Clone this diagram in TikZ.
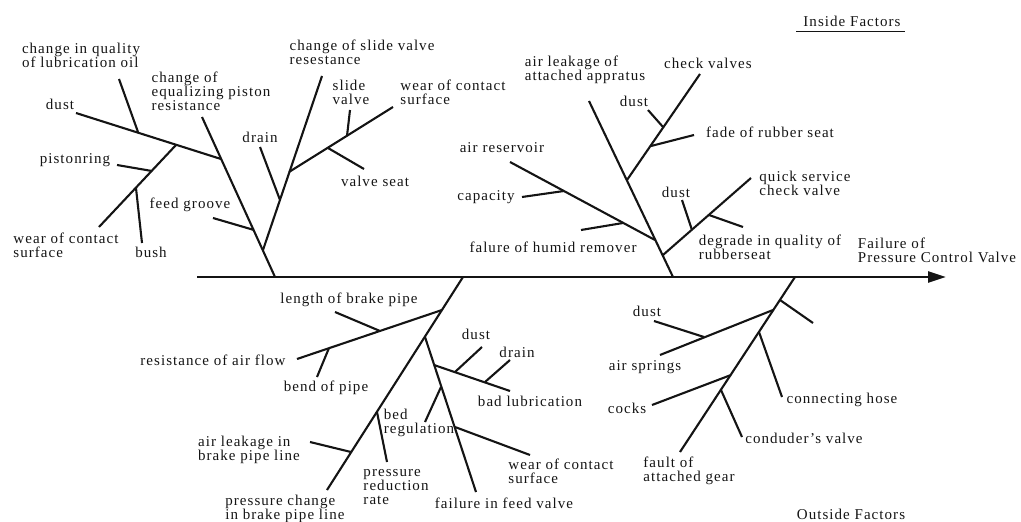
\documentclass[tikz,border=0pt]{standalone}
\usepackage{fontspec}
\setmainfont{Liberation Serif}[LetterSpace=7]
\usetikzlibrary{arrows.meta}
\definecolor{FbInk}{HTML}{141414}
\tikzset{
  fbSpine/.style={line width=2.6pt,FbInk,-{Triangle[length=18pt,width=11pt]}},
  fbBone/.style={line width=2.1pt,FbInk},
  fbLabel/.style={inner sep=0pt,align=left,text=FbInk,font=\fontsize{15}{14}\selectfont},
}

\begin{document}
\begin{tikzpicture}[x=1pt,y=-1pt]
  \useasboundingbox (0,0) rectangle (1021,522);
  \coordinate (S0) at (197,277);
  \coordinate (S1) at (946,277);
  \coordinate (A0) at (275,277);  \coordinate (A1) at (202,117);
  \coordinate (Ad) at (221,159);  \coordinate (Ade) at (76,113);
  \coordinate (Al) at (138,132);  \coordinate (Ale) at (119,79);
  \coordinate (Aw) at (176,145);  \coordinate (Awe) at (99,227);
  \coordinate (Ap) at (152,171);  \coordinate (Ape) at (117,165);
  \coordinate (Ab) at (136,188);  \coordinate (Abe) at (142,243);
  \coordinate (Af) at (254,230);  \coordinate (Afe) at (213,218);
  \coordinate (B0) at (263,250);  \coordinate (B1) at (322,76);
  \coordinate (Bd) at (280,200);  \coordinate (Bde) at (260,147);
  \coordinate (Bs) at (289,172);  \coordinate (Bse) at (393,107);
  \coordinate (Bv) at (347,136);  \coordinate (Bve) at (350,110);
  \coordinate (Bt) at (328,148);  \coordinate (Bte) at (364,169);
  \coordinate (C0) at (673,277);  \coordinate (C1) at (589,101);
  \coordinate (Cc) at (627,180);  \coordinate (Cce) at (700,74);
  \coordinate (Cd) at (663,127);  \coordinate (Cde) at (648,110);
  \coordinate (Cf) at (651,146);  \coordinate (Cfe) at (694,135);
  \coordinate (Cr) at (655,240);  \coordinate (Cre) at (510,162);
  \coordinate (Cp) at (564,191);  \coordinate (Cpe) at (522,197);
  \coordinate (Ch) at (623,223);  \coordinate (Che) at (581,230);
  \coordinate (Cq) at (663,255);  \coordinate (Cqe) at (751,178);
  \coordinate (Cu) at (692,230);  \coordinate (Cue) at (682,200);
  \coordinate (Cg) at (709,215);  \coordinate (Cge) at (743,227);
  \coordinate (D0) at (463,277);  \coordinate (D1) at (327,490);
  \coordinate (Dr) at (442,310);  \coordinate (Dre) at (297,359);
  \coordinate (Dl) at (380,331);  \coordinate (Dle) at (335,312);
  \coordinate (Db) at (329,348);  \coordinate (Dbe) at (317,377);
  \coordinate (Da) at (351,452);  \coordinate (Dae) at (310,442);
  \coordinate (Dp) at (377,412);  \coordinate (Dpe) at (387,462);
  \coordinate (E0) at (425,337);  \coordinate (E1) at (476,492);
  \coordinate (El) at (434,365);  \coordinate (Ele) at (510,391);
  \coordinate (Eu) at (455,372);  \coordinate (Eue) at (482,347);
  \coordinate (En) at (485,382);  \coordinate (Ene) at (510,360);
  \coordinate (Eg) at (441,387);  \coordinate (Ege) at (425,422);
  \coordinate (Ew) at (455,427);  \coordinate (Ewe) at (530,455);
  \coordinate (F0) at (795,277);  \coordinate (F1) at (680,452);
  \coordinate (Ft) at (780,300);  \coordinate (Fte) at (813,323);
  \coordinate (Fs) at (773,310);  \coordinate (Fse) at (660,355);
  \coordinate (Fu) at (704,337);  \coordinate (Fue) at (654,321);
  \coordinate (Fh) at (759,332);  \coordinate (Fhe) at (782,397);
  \coordinate (Fc) at (731,375);  \coordinate (Fce) at (652,405);
  \coordinate (Fv) at (721,390);  \coordinate (Fve) at (742,437);

  \draw[fbSpine] (S0) -- (S1);
  \draw[fbBone] (A0) -- (A1);
  \draw[fbBone] (Ad) -- (Ade);
  \draw[fbBone] (Al) -- (Ale);
  \draw[fbBone] (Aw) -- (Awe);
  \draw[fbBone] (Ap) -- (Ape);
  \draw[fbBone] (Ab) -- (Abe);
  \draw[fbBone] (Af) -- (Afe);
  \draw[fbBone] (B0) -- (B1);
  \draw[fbBone] (Bd) -- (Bde);
  \draw[fbBone] (Bs) -- (Bse);
  \draw[fbBone] (Bv) -- (Bve);
  \draw[fbBone] (Bt) -- (Bte);
  \draw[fbBone] (C0) -- (C1);
  \draw[fbBone] (Cc) -- (Cce);
  \draw[fbBone] (Cd) -- (Cde);
  \draw[fbBone] (Cf) -- (Cfe);
  \draw[fbBone] (Cr) -- (Cre);
  \draw[fbBone] (Cp) -- (Cpe);
  \draw[fbBone] (Ch) -- (Che);
  \draw[fbBone] (Cq) -- (Cqe);
  \draw[fbBone] (Cu) -- (Cue);
  \draw[fbBone] (Cg) -- (Cge);
  \draw[fbBone] (D0) -- (D1);
  \draw[fbBone] (Dr) -- (Dre);
  \draw[fbBone] (Dl) -- (Dle);
  \draw[fbBone] (Db) -- (Dbe);
  \draw[fbBone] (Da) -- (Dae);
  \draw[fbBone] (Dp) -- (Dpe);
  \draw[fbBone] (E0) -- (E1);
  \draw[fbBone] (El) -- (Ele);
  \draw[fbBone] (Eu) -- (Eue);
  \draw[fbBone] (En) -- (Ene);
  \draw[fbBone] (Eg) -- (Ege);
  \draw[fbBone] (Ew) -- (Ewe);
  \draw[fbBone] (F0) -- (F1);
  \draw[fbBone] (Ft) -- (Fte);
  \draw[fbBone] (Fs) -- (Fse);
  \draw[fbBone] (Fu) -- (Fue);
  \draw[fbBone] (Fh) -- (Fhe);
  \draw[fbBone] (Fc) -- (Fce);
  \draw[fbBone] (Fv) -- (Fve);

  \node[fbLabel] (inside) at (852,21) {Inside Factors};
  \draw[line width=0.8pt,FbInk] ([xshift=-7pt,yshift=-5pt]inside.south west) -- ([xshift=4pt,yshift=-5pt]inside.south east);
  \node[fbLabel] (outside) at (851,514) {Outside Factors};
  \node[fbLabel] (effect) at (937,250) {Failure of\\Pressure Control Valve};

  \node[fbLabel] (lubOil) at (81,55) {change in quality\\of lubrication oil};
  \node[fbLabel] (dustA) at (60,104) {dust};
  \node[fbLabel] (eqPiston) at (211,91) {change of\\equalizing piston\\resistance};
  \node[fbLabel] (drainA) at (260,137) {drain};
  \node[fbLabel] (pistonRing) at (75,160) {pistonring};
  \node[fbLabel] (feedGroove) at (190,205) {feed groove};
  \node[fbLabel] (wearA) at (66,245) {wear of contact\\surface};
  \node[fbLabel] (bush) at (151,252) {bush};
  \node[fbLabel] (slideRes) at (362,52) {change of slide valve\\resestance};
  \node[fbLabel] (slideValve) at (351,92) {slide\\valve};
  \node[fbLabel] (wearB) at (453,92) {wear of contact\\surface};
  \node[fbLabel] (valveSeat) at (375,181) {valve seat};

  \node[fbLabel] (airLeakApp) at (585,70) {air leakage of\\attached appratus};
  \node[fbLabel] (dustC) at (634,101) {dust};
  \node[fbLabel] (checkValves) at (708,63) {check valves};
  \node[fbLabel] (fadeSeat) at (770,132) {fade of rubber seat};
  \node[fbLabel] (airRes) at (502,148) {air reservoir};
  \node[fbLabel] (capacity) at (486,197) {capacity};
  \node[fbLabel] (humid) at (553,247) {falure of humid remover};
  \node[fbLabel] (dustQ) at (676,192) {dust};
  \node[fbLabel] (quickServ) at (805,183) {quick service\\check valve};
  \node[fbLabel] (degrade) at (770,247) {degrade in quality of\\rubberseat};

  \node[fbLabel] (lenPipe) at (349,300) {length of brake pipe};
  \node[fbLabel] (airFlow) at (213,360) {resistance of air flow};
  \node[fbLabel] (bendPipe) at (326,388) {bend of pipe};
  \node[fbLabel] (dustE) at (476,334) {dust};
  \node[fbLabel] (drainE) at (517,352) {drain};
  \node[fbLabel] (badLub) at (530,401) {bad lubrication};
  \node[fbLabel] (bedReg) at (419,423) {bed\\regulation};
  \node[fbLabel] (wearE) at (561,471) {wear of contact\\surface};
  \node[fbLabel] (feedValve) at (504,503) {failure in feed valve};
  \node[fbLabel] (airLeakPipe) at (249,450) {air leakage in\\brake pipe line};
  \node[fbLabel] (redRate) at (396,487) {pressure\\reduction\\rate};
  \node[fbLabel] (presChange) at (285,509) {pressure change\\in brake pipe line};

  \node[fbLabel] (dustF) at (647,311) {dust};
  \node[fbLabel] (airSprings) at (645,367) {air springs};
  \node[fbLabel] (cocks) at (627,408) {cocks};
  \node[fbLabel] (hose) at (842,400) {connecting hose};
  \node[fbLabel] (condValve) at (804,438) {conduder’s valve};
  \node[fbLabel] (attGear) at (689,471) {fault of\\attached gear};
\end{tikzpicture}
\end{document}
